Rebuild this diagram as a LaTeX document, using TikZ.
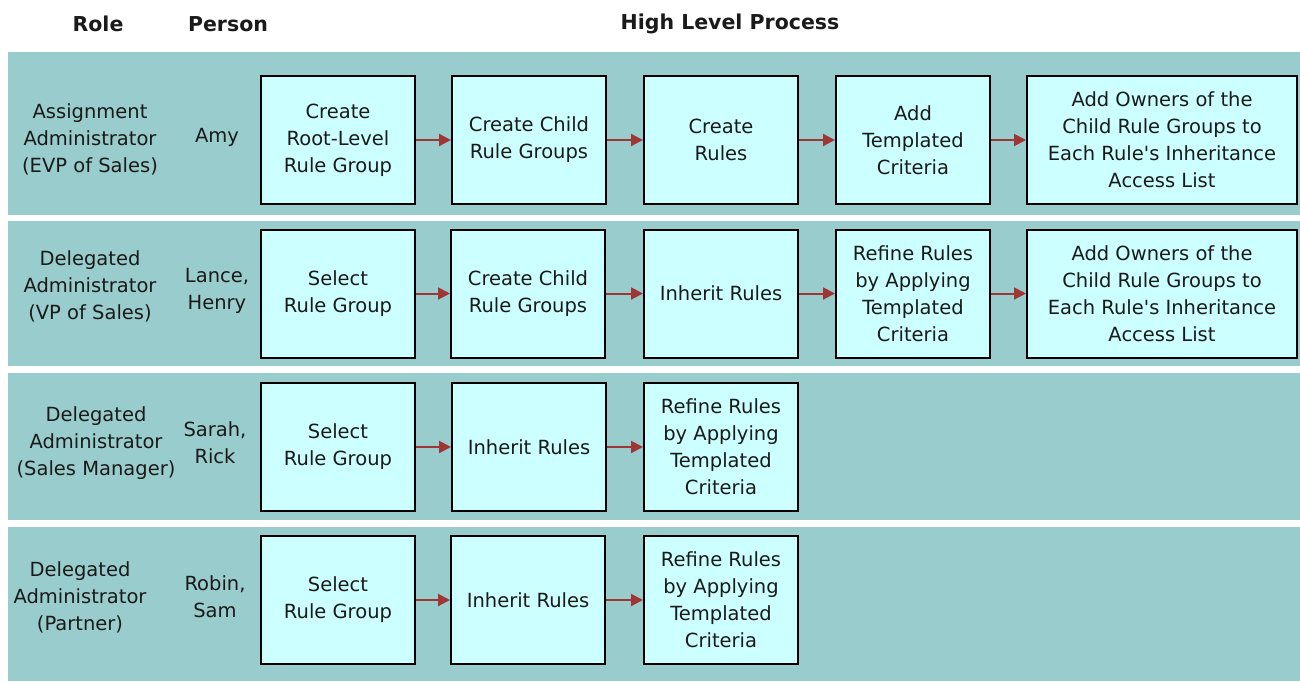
\documentclass[tikz,border=0pt]{standalone}
\usepackage{fontspec}
\setmainfont{DejaVu Sans}[Ligatures=TeXOff]
\usetikzlibrary{arrows.meta}
\definecolor{band}{HTML}{99CCCC}
\definecolor{boxfill}{HTML}{CCFFFF}
\definecolor{arr}{HTML}{A03535}
\definecolor{txt}{HTML}{1A1A1A}
\tikzset{
  procbox/.style={draw=black, line width=2pt, fill=boxfill, minimum height=128pt, inner sep=0pt, align=center, text=txt, font=\fontsize{19.5}{27}\selectfont},
  wbox/.style={procbox, minimum width=154pt},
  widebox/.style={procbox, minimum width=270pt},
  lbl/.style={align=center, inner sep=0pt, text=txt, font=\fontsize{19.5}{27}\selectfont},
  hdr/.style={inner sep=0pt, text=txt, font=\fontsize{20.5}{24}\selectfont\bfseries},
  flow/.style={draw=arr, line width=2pt, -{Triangle[length=12pt,width=12pt]}},
}
\begin{document}
\begin{tikzpicture}[x=1pt,y=-1pt]
\useasboundingbox (0,0) rectangle (1300,681);
\fill[white] (0,0) rectangle (1300,681);
% bands
\fill[band] (8,52) rectangle (1300,215);
\fill[band] (8,221) rectangle (1300,366);
\fill[band] (8,373) rectangle (1300,520);
\fill[band] (8,527) rectangle (1300,681);
% headers
\node[hdr] (hrole) at (98,24) {Role};
\node[hdr] (hperson) at (228,24) {Person};
\node[hdr] (hproc) at (730,24) {High Level Process};
% row 1
\node[lbl] (role1) at (90,139) {Assignment\\Administrator\\(EVP of Sales)};
\node[lbl] (p1) at (217,137) {Amy};
\node[wbox] (a1) at (338,140) {Create\\Root-Level\\Rule Group};
\node[wbox] (a2) at (529,140) {Create Child\\Rule Groups};
\node[wbox] (a3) at (721,140) {Create\\Rules};
\node[wbox] (a4) at (913,140) {Add\\Templated\\Criteria};
\node[widebox] (a5) at (1162,140) {Add Owners of the\\Child Rule Groups to\\Each Rule's Inheritance\\Access List};
\draw[flow] (a1) -- (a2);
\draw[flow] (a2) -- (a3);
\draw[flow] (a3) -- (a4);
\draw[flow] (a4) -- (a5);
% row 2
\node[lbl] (role2) at (90,286) {Delegated\\Administrator\\(VP of Sales)};
\node[lbl] (p2) at (217,291) {Lance,\\Henry};
\node[wbox] (b1) at (338,293.5) {Select\\Rule Group};
\node[wbox] (b2) at (528,293.5) {Create Child\\Rule Groups};
\node[wbox] (b3) at (721,293.5) {Inherit Rules};
\node[wbox] (b4) at (913,293.5) {Refine Rules\\by Applying\\Templated\\Criteria};
\node[widebox] (b5) at (1162,293.5) {Add Owners of the\\Child Rule Groups to\\Each Rule's Inheritance\\Access List};
\draw[flow] (b1) -- (b2);
\draw[flow] (b2) -- (b3);
\draw[flow] (b3) -- (b4);
\draw[flow] (b4) -- (b5);
% row 3
\node[lbl] (role3) at (96,443) {Delegated\\Administrator\\(Sales Manager)};
\node[lbl] (p3) at (215,443) {Sarah,\\Rick};
\node[wbox] (c1) at (338,447) {Select\\Rule Group};
\node[wbox] (c2) at (529,447) {Inherit Rules};
\node[wbox] (c3) at (721,447) {Refine Rules\\by Applying\\Templated\\Criteria};
\draw[flow] (c1) -- (c2);
\draw[flow] (c2) -- (c3);
% row 4
\node[lbl] (role4) at (80,597) {Delegated\\Administrator\\(Partner)};
\node[lbl] (p4) at (215,597) {Robin,\\Sam};
\node[wbox] (d1) at (338,600) {Select\\Rule Group};
\node[wbox] (d2) at (528,600) {Inherit Rules};
\node[wbox] (d3) at (721,600) {Refine Rules\\by Applying\\Templated\\Criteria};
\draw[flow] (d1) -- (d2);
\draw[flow] (d2) -- (d3);
\end{tikzpicture}
\end{document}
